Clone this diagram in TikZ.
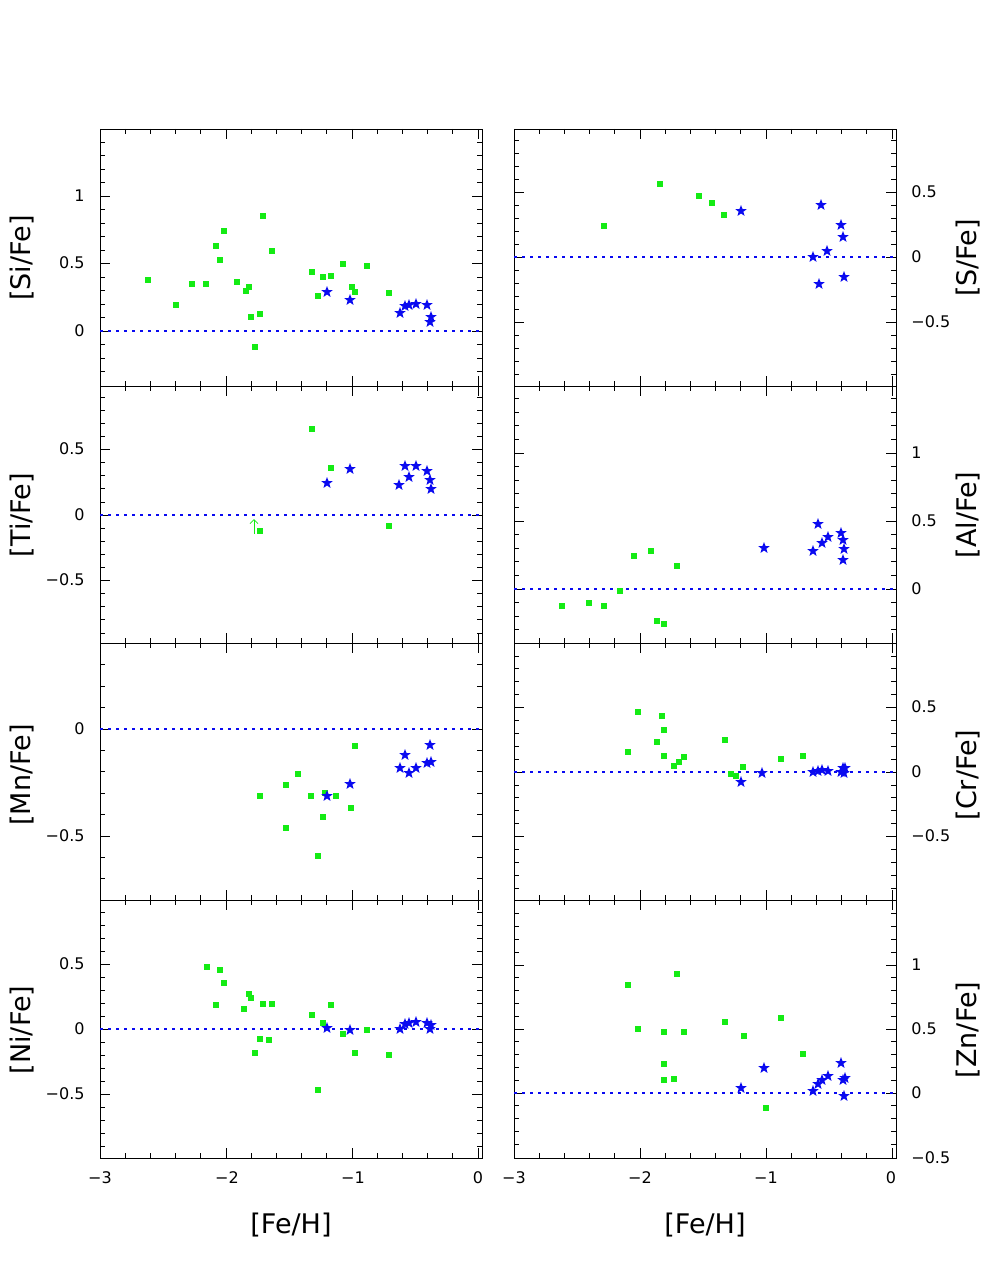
\documentclass[tikz,border=0pt]{standalone}
\usepackage{fontspec}
\setmainfont{DejaVu Sans}
\usetikzlibrary{shapes.geometric,arrows.meta}
\definecolor{gr}{RGB}{20,235,20}
\definecolor{bl}{RGB}{10,10,240}
\tikzset{sq/.style={fill=gr,minimum size=5.5pt,inner sep=0},
st/.style={star,star points=5,star point ratio=2.4,fill=bl,minimum size=12pt,inner sep=0},
tl/.style={font=\fontsize{16}{18}\selectfont,inner sep=1pt},
al/.style={font=\fontsize{27}{30}\selectfont,rotate=90},
ref/.style={draw=bl,line width=1.4pt,dash pattern=on 2.5pt off 5.5pt}}
\newcommand\xtk[3]{\foreach \i in {0,...,15}{\pgfmathsetmacro\L{mod(\i,5)==0?10:5}\draw (#1+\i*25.2,#2)--++(0,\L); \draw (#1+\i*25.2,#3)--++(0,-\L);}}
\newcommand\ytk[6]{\foreach \i in {#5,...,#6}{\pgfmathsetmacro\L{mod(\i,5)==0?10:5}\draw (#1,#3-\i*#4/10)--++(\L,0); \draw (#2,#3-\i*#4/10)--++(-\L,0);}}
\begin{document}
\begin{tikzpicture}[x=1pt,y=-1pt,line width=0.8pt]
\useasboundingbox (0,0) rectangle (997,1287);
% frames
\foreach \t/\b in {129/386,386/643,643/900,900/1158}{\draw (100,\t) rectangle (482,\b); \draw (514,\t) rectangle (896,\b);
\xtk{100}{\t}{\b}\xtk{514}{\t}{\b}}
\ytk{100}{482}{331}{135}{-3}{14}
\ytk{514}{896}{257}{130}{-9}{9}
\ytk{100}{482}{515}{131}{-9}{9}
\ytk{514}{896}{589}{136}{-3}{14}
\ytk{100}{482}{729}{214}{-7}{3}
\ytk{514}{896}{772}{129}{-9}{9}
\ytk{100}{482}{1029}{130}{-9}{9}
\ytk{514}{896}{1093}{128}{-4}{14}
% reference lines
\path[ref] (100,331)--(482,331); \path[ref] (514,257)--(896,257);
\path[ref] (100,515)--(482,515); \path[ref] (514,589)--(896,589);
\path[ref] (100,729)--(482,729); \path[ref] (514,772)--(896,772);
\path[ref] (100,1029)--(482,1029); \path[ref] (514,1093)--(896,1093);
% tick labels
\foreach \y/\l in {196/1,263/0.5,331/0, 449/0.5,515/0,580/−0.5, 729/0,836/−0.5, 964/0.5,1029/0,1094/−0.5}{\node[tl,anchor=east] at (86,\y) {\l};}
\foreach \y/\l in {192/0.5,257/0,322/−0.5, 453/1,521/0.5,589/0, 707/0.5,772/0,836/−0.5, 965/1,1029/0.5,1093/0,1158/−0.5}{\node[tl,anchor=west] at (910,\y) {\l};}
\foreach \x/\l in {100/−3,227/−2,353/−1,478/0}{\node[tl] at (\x,1178) {\l};}
\foreach \x/\l in {514/−3,640/−2,766/−1,891/0}{\node[tl] at (\x,1178) {\l};}
% axis labels
\node[al] (l1) at (22,258) {[Si/Fe]};
\node[al] (l2) at (22,515) {[Ti/Fe]};
\node[al] (l3) at (22,775) {[Mn/Fe]};
\node[al] (l4) at (22,1030) {[Ni/Fe]};
\node[al] (r1) at (968,258) {[S/Fe]};
\node[al] (r2) at (968,515) {[Al/Fe]};
\node[al] (r3) at (968,775) {[Cr/Fe]};
\node[al] (r4) at (968,1030) {[Zn/Fe]};
\node[font=\fontsize{27}{30}\selectfont] (fx1) at (291,1225) {[Fe/H]};
\node[font=\fontsize{27}{30}\selectfont] (fx2) at (705,1225) {[Fe/H]};
% green points
\foreach \x/\y in {148/280,176/305,192/284,206/284,216/246,220/260,224/231,237/282,246/291,249/287,251/317,255/347,260/314,263/216,272/251,312/272,318/296,323/277,331/276,343/264,352/287,355/292,367/266,389/293,
604/226,660/184,699/196,712/203,724/215,
312/429,331/468,389/526,260/531,
562/606,589/603,604/606,620/591,634/556,651/551,657/621,664/624,677/566,
260/796,286/785,298/774,286/828,311/796,318/856,323/817,325/793,336/796,351/808,355/746,
628/752,638/712,657/742,662/716,664/730,664/756,674/766,679/762,684/757,725/740,731/774,736/776,743/767,781/759,803/756,
207/967,216/1005,220/970,224/983,244/1009,249/994,251/998,255/1053,260/1039,263/1004,269/1040,272/1004,312/1015,318/1090,323/1023,331/1005,343/1034,355/1053,367/1030,389/1055,
628/985,638/1029,664/1032,664/1064,664/1080,674/1079,677/974,684/1032,725/1022,744/1036,766/1108,781/1018,803/1054}
{\node[sq] at (\x,\y) {};}
\draw[gr,line width=0.8pt,-{Straight Barb[length=4pt]}] (254,534)--(254,519);
% blue stars
\foreach \x/\y in {327/292,350/300,400/313,405/306,409/305,416/304,427/305,430/322,431/317,
741/211,813/257,819/284,821/205,827/251,841/225,843/237,844/277,
327/483,350/469,399/485,405/466,409/477,416/466,427/471,430/480,431/489,
764/548,813/551,818/524,822/543,828/537,841/533,843/540,844/549,843/560,
327/796,350/784,400/768,405/755,409/773,416/768,427/763,430/745,431/762,
741/782,762/773,813/772,818/771,822/770,828/771,841/772,843/768,844/773,845/768,
327/1028,350/1030,400/1029,405/1024,409/1023,416/1022,427/1023,430/1029,431/1025,
741/1088,764/1068,813/1091,818/1084,822/1080,828/1076,841/1063,843/1080,844/1096,845/1078}
{\node[st] at (\x,\y) {};}
\end{tikzpicture}
\end{document}
